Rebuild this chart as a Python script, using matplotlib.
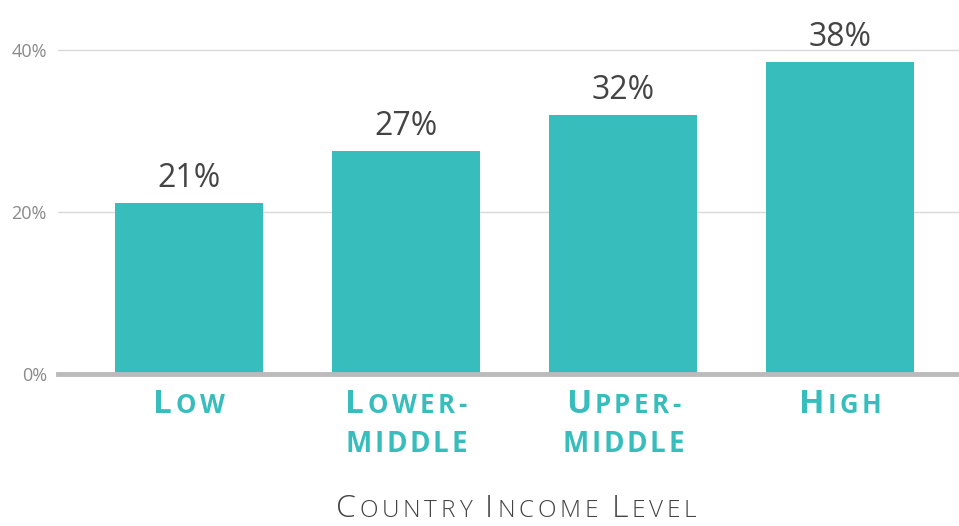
import matplotlib
matplotlib.use("Agg")
import matplotlib.pyplot as plt
from matplotlib.offsetbox import TextArea, HPacker, AnnotationBbox

# data
categories = ["Low", "Lower-\nmiddle", "Upper-\nmiddle", "High"]
values = [21.1, 27.6, 32.0, 38.6]
value_labels = ["21%", "27%", "32%", "38%"]
yticks = [0, 20, 40]

teal = "#38BDBD"
font = "Open Sans"


def small_caps(line, big, small, color, weight, spacing):
    # fake small caps: capitals at full size, lower case as smaller capitals
    chars = []
    for ch in line:
        size = big if ch.isupper() else small
        chars.append(TextArea(ch.upper(), textprops=dict(
            fontsize=size, color=color, fontweight=weight, family=font)))
    return HPacker(children=chars, align="baseline", pad=0, sep=spacing)


fig = plt.figure(figsize=(9.59, 5.26), dpi=100)
ax = fig.add_axes([58 / 959, 1 - 374 / 526, 1 - 58 / 959, 374 / 526])

x = range(len(categories))
ax.bar(x, values, width=0.68, color=teal, zorder=2)

for i, (v, lab) in enumerate(zip(values, value_labels)):
    ax.annotate(lab, (i, v), xytext=(0, 11.5), textcoords="offset points",
                ha="center", va="baseline", fontsize=23, color="#444444", family=font)

ax.set_xlim(-0.604, 3.548)
ax.set_ylim(0, 46.2)
ax.set_yticks(yticks)
ax.set_yticklabels([f"{t}%" for t in yticks], fontsize=13, color="#8a8a8a", family=font)
ax.tick_params(axis="y", length=0, pad=8)
ax.set_xticks([])
for t in yticks[1:]:
    ax.axhline(t, color="#D9D9D9", lw=1, zorder=1)
ax.axhline(0, color="#BBBBBB", lw=3.5, zorder=3, clip_on=False)
for s in ax.spines.values():
    s.set_visible(False)

# category labels, one box per line
for i, cat in enumerate(categories):
    for j, line in enumerate(cat.split("\n")):
        if j == 0:
            box = small_caps(line, 24, 18.5, teal, "bold", 2.5)
            off = -10
        else:
            box = small_caps(line, 20, 20, teal, "bold", 2.0)
            off = -40
        ab = AnnotationBbox(box, (i, 0), xybox=(0, off), xycoords="data",
                            boxcoords="offset points", box_alignment=(0.5, 1),
                            frameon=False, annotation_clip=False)
        ax.add_artist(ab)

title = small_caps("Country Income Level", 23, 17.5, "#444444", "light", 2.7)
ab = AnnotationBbox(title, (516 / 959, 1 / 526), xycoords="figure fraction",
                    box_alignment=(0.5, 0), frameon=False, annotation_clip=False)
fig.add_artist(ab)

fig.savefig("out.png", dpi=100)
